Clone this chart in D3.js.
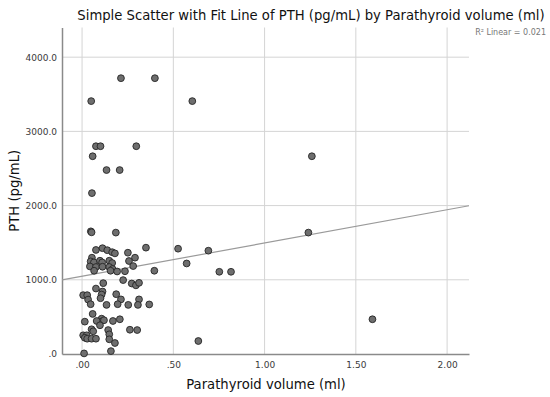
<!DOCTYPE html>
<html>
<head>
<meta charset="utf-8">
<script src="https://cdn.jsdelivr.net/npm/d3@7"></script>
<style>
  body { margin: 0; background: #fff; }
  text { font-family: "DejaVu Sans", sans-serif; }
</style>
</head>
<body>
<div id="chart"></div>
<script>
// parathyroid volume (ml)
const volume = [
  0.213, 0.399, 0.050, 0.604, 0.076, 0.101, 0.297, 0.058, 1.259, 0.134,
  0.206, 0.054, 0.048, 0.052, 0.185, 1.240, 0.350, 0.526, 0.692, 0.076,
  0.112, 0.138, 0.165, 0.251, 0.180, 0.054, 0.290, 0.047, 0.257, 0.065,
  0.098, 0.110, 0.149, 0.165, 0.573, 0.043, 0.076, 0.112, 0.149, 0.280,
  0.167, 0.066, 0.156, 0.192, 0.235, 0.396, 0.752, 0.816, 0.116, 0.225,
  0.272, 0.295, 0.312, 0.076, 0.112, 0.107, 0.006, 0.028, 0.033, 0.101,
  0.187, 0.213, 0.312, 0.047, 0.134, 0.195, 0.253, 0.306, 0.368, 0.058,
  0.015, 0.107, 0.098, 0.120, 0.080, 0.169, 0.207, 0.098, 0.052, 0.061,
  0.143, 0.149, 0.262, 0.302, 0.006, 0.025, 0.015, 0.028, 0.052, 0.076,
  0.149, 0.180, 0.158, 0.011, 0.637, 1.591
];
// PTH (pg/mL)
const pth = [
  3717, 3717, 3408, 3408, 2800, 2800, 2800, 2665, 2665, 2479,
  2479, 2168, 1653, 1640, 1636, 1636, 1433, 1419, 1392, 1402,
  1426, 1399, 1372, 1365, 1356, 1298, 1298, 1248, 1253, 1234,
  1257, 1234, 1257, 1226, 1220, 1180, 1172, 1176, 1172, 1185,
  1145, 1122, 1122, 1112, 1115, 1122, 1108, 1108, 955, 996,
  950, 925, 959, 882, 842, 801, 793, 793, 733, 752,
  806, 736, 736, 671, 662, 671, 662, 662, 668, 540,
  436, 476, 436, 455, 445, 445, 468, 387, 333, 306,
  323, 265, 327, 323, 252, 252, 219, 206, 206, 206,
  198, 148, 39, 8, 175, 468
];

const xTicks = [0, 0.5, 1, 1.5, 2];
const yTicks = [0, 1000, 2000, 3000, 4000];

// fit line
const fitIntercept = 1048;
const fitSlope = 448;
const rSquared = "0.021";

const width = 550, height = 397;
const margin = { top: 27.5, right: 81, bottom: 43, left: 62 };

const svg = d3.select('#chart').append('svg')
  .attr('width', width)
  .attr('height', height);

const x = d3.scaleLinear().domain([-0.11, 2.12]).range([margin.left, width - margin.right]);
const y = d3.scaleLinear().domain([0, 4400]).range([height - margin.bottom, margin.top]);

// grid
svg.append('g')
  .selectAll('line.vg')
  .data(xTicks)
  .enter().append('line')
  .attr('x1', d => x(d)).attr('x2', d => x(d))
  .attr('y1', y.range()[0]).attr('y2', y.range()[1])
  .attr('stroke', '#d4d4d4').attr('stroke-width', 1);

svg.append('g')
  .selectAll('line.hg')
  .data(yTicks.slice(1))
  .enter().append('line')
  .attr('x1', x.range()[0]).attr('x2', x.range()[1])
  .attr('y1', d => y(d)).attr('y2', d => y(d))
  .attr('stroke', '#d4d4d4').attr('stroke-width', 1);

// axes
const xAxis = d3.axisBottom(x).tickValues(xTicks).tickSize(0).tickPadding(8)
  .tickFormat(d => d3.format('.2f')(d).replace(/^0/, ''));
svg.append('g')
  .attr('transform', `translate(0,${y.range()[0]})`)
  .call(xAxis)
  .call(g => g.select('.domain').attr('stroke', '#8a8a8a').attr('stroke-width', 1.5))
  .call(g => g.selectAll('text').attr('font-size', 9).attr('fill', '#3a3a3a').style('font-family', '"DejaVu Sans", sans-serif'));

const yAxis = d3.axisLeft(y).tickValues(yTicks).tickSize(0).tickPadding(5)
  .tickFormat(d => d3.format('.1f')(d).replace(/^0/, ''));
svg.append('g')
  .attr('transform', `translate(${x.range()[0]},0)`)
  .call(yAxis)
  .call(g => g.select('.domain').attr('stroke', '#8a8a8a').attr('stroke-width', 1.5))
  .call(g => g.selectAll('text').attr('font-size', 9).attr('fill', '#3a3a3a').style('font-family', '"DejaVu Sans", sans-serif'));

// fit line
const xd = x.domain();
svg.append('line')
  .attr('x1', x(xd[0])).attr('y1', y(fitIntercept + fitSlope * xd[0]))
  .attr('x2', x(xd[1])).attr('y2', y(fitIntercept + fitSlope * xd[1]))
  .attr('stroke', '#9a9a9a').attr('stroke-width', 1.2);

// points
svg.append('g')
  .selectAll('circle')
  .data(volume.map((v, i) => ({ v, p: pth[i] })))
  .enter().append('circle')
  .attr('cx', d => x(d.v))
  .attr('cy', d => y(d.p))
  .attr('r', 3.4)
  .attr('fill', '#6e6e6e')
  .attr('stroke', '#262626')
  .attr('stroke-width', 0.9);

// texts
svg.append('text')
  .attr('x', 311).attr('y', 20)
  .attr('text-anchor', 'middle')
  .attr('font-size', 13.2)
  .attr('font-weight', 500)
  .attr('fill', '#111')
  .text('Simple Scatter with Fit Line of PTH (pg/mL) by Parathyroid volume (ml)');

svg.append('text')
  .attr('x', 546).attr('y', 35)
  .attr('text-anchor', 'end')
  .attr('font-size', 8)
  .attr('fill', '#777')
  .text('R\u00B2 Linear = ' + rSquared);

svg.append('text')
  .attr('x', 266).attr('y', 389)
  .attr('text-anchor', 'middle')
  .attr('font-size', 13.2)
  .attr('fill', '#111')
  .text('Parathyroid volume (ml)');

svg.append('text')
  .attr('transform', `translate(19,${(y.range()[0] + y.range()[1]) / 2}) rotate(-90)`)
  .attr('text-anchor', 'middle')
  .attr('font-size', 13.2)
  .attr('fill', '#111')
  .text('PTH (pg/mL)');
</script>
</body>
</html>
